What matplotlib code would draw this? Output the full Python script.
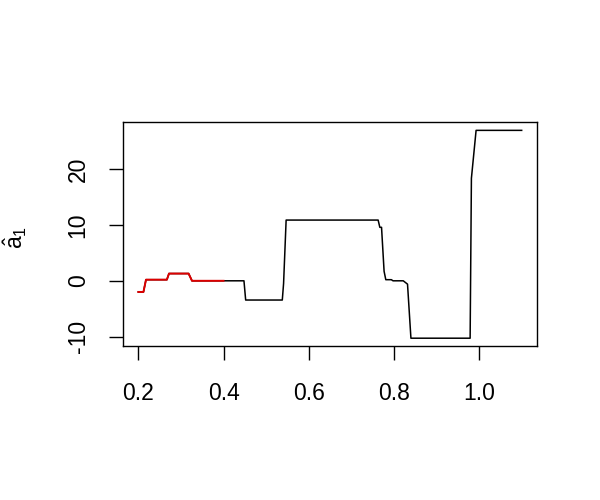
import numpy as np
import matplotlib
matplotlib.use('Agg')
import matplotlib.pyplot as plt

plt.rcParams['font.family'] = ['Liberation Sans', 'DejaVu Sans']
plt.rcParams['mathtext.fontset'] = 'custom'
plt.rcParams['mathtext.rm'] = 'Liberation Sans'
plt.rcParams['mathtext.it'] = 'Liberation Sans'

# step-like estimate
x_est = [0.2, 0.212, 0.218, 0.267, 0.272, 0.318, 0.326, 0.4, 0.448, 0.452,
         0.538, 0.541, 0.547, 0.763, 0.767, 0.771, 0.777, 0.781, 0.794, 0.798,
         0.822, 0.832, 0.84, 0.979, 0.982, 0.993, 1.1]
y_est = [-2.0, -2.0, 0.2, 0.2, 1.3, 1.3, 0.0, 0.0, 0.0, -3.45,
         -3.45, -0.5, 10.9, 10.9, 9.6, 9.6, 1.7, 0.2, 0.2, 0.0,
         0.0, -0.6, -10.3, -10.3, 18.4, 27.0, 27.0]
red_end = 0.4

x_ticks = [0.2, 0.4, 0.6, 0.8, 1.0]
y_ticks = [-10, 0, 10, 20]

x_est = np.array(x_est)
y_est = np.array(y_est)
red = x_est <= red_end

fig = plt.figure(figsize=(6, 5), dpi=100)
ax = fig.add_axes([123/600, 1 - 346/500, (537-123)/600, (346-122)/500])

ax.plot(x_est, y_est, color='black', lw=1.1)
ax.plot(x_est[red], y_est[red], color='#dd0000', lw=1.4)

ax.set_xlim(0.164, 1.136)
ax.set_ylim(-11.7, 28.5)
ax.set_xticks(x_ticks)
ax.set_xticklabels(['0.2', '0.4', '0.6', '0.8', '1.0'])
ax.set_yticks(y_ticks)
ax.set_yticklabels(['-10', '0', '10', '20'], rotation=90, va='center')
ax.tick_params(direction='out', length=10, width=1, labelsize=16.5,
               top=False, right=False)
ax.tick_params(axis='x', pad=16)
ax.tick_params(axis='y', pad=14)
for s in ax.spines.values():
    s.set_linewidth(1)

# y label: a-hat with subscript 1
fig.text(15/600, 1 - 237/500, r'$\hat{\mathrm{a}}_1$', rotation=90,
         ha='center', va='center', fontsize=16.5)

fig.savefig('out.png', dpi=100)
